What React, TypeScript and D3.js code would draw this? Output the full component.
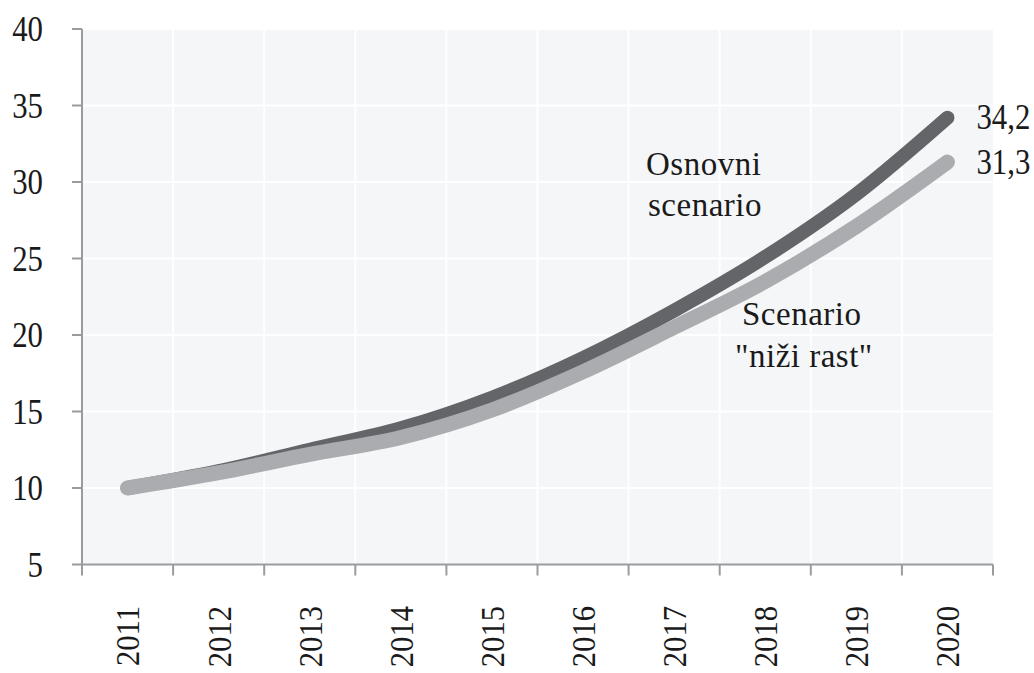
import React from 'react'
import * as d3 from 'd3'

const years = ['2011', '2012', '2013', '2014', '2015', '2016', '2017', '2018', '2019', '2020']
const osnovni = [10, 11.1, 12.5, 13.9, 15.9, 18.5, 21.6, 25.1, 29.2, 34.2]
const niziRast = [10, 11, 12.2, 13.3, 15.1, 17.6, 20.5, 23.5, 27.1, 31.3]
const yTicks = [5, 10, 15, 20, 25, 30, 35, 40]

const width = 1034
const height = 673
const left = 82
const right = 993
const top = 29
const bottom = 564.5

const x = d3.scaleBand().domain(years).range([left, right])
const y = d3.scaleLinear().domain([5, 40]).range([bottom, top])

const line = d3
  .line<number>()
  .x((d, i) => x(years[i])! + x.bandwidth() / 2)
  .y(d => y(d))
  .curve(d3.curveMonotoneX)

const font = '"Liberation Serif", serif'
const axisColor = '#9a9b9f'
const ink = '#1a1a1a'

// narrow, tall digits like the original
function Num({ x: px, y: py, anchor = 'start', children }: any) {
  return (
    <text
      transform={`translate(${px},${py}) scale(0.88,1)`}
      dy="0.35em"
      textAnchor={anchor}
      fontFamily={font}
      fontSize={35}
      fill={ink}
    >
      {children}
    </text>
  )
}

export default function App() {
  const lastX = x(years[years.length - 1])! + x.bandwidth() / 2
  const fmt = (v: number) => String(v).replace('.', ',')
  return (
    <svg
      width={width}
      height={height}
      style={{ position: 'absolute', left: 0, top: 0, background: '#fff' }}
    >
      <rect x={left} y={top} width={right - left} height={bottom - top} fill="#f5f6f8" />
      {yTicks.map(t => (
        <line key={'gy' + t} x1={left} x2={right} y1={y(t)} y2={y(t)} stroke="#fff" strokeWidth={2} />
      ))}
      {years.map(yr => (
        <line key={'gx' + yr} x1={x(yr)} x2={x(yr)} y1={top} y2={bottom} stroke="#fff" strokeWidth={2} />
      ))}

      {/* axes */}
      <line x1={left} x2={left} y1={top} y2={bottom} stroke={axisColor} strokeWidth={2} />
      <line x1={left} x2={right} y1={bottom} y2={bottom} stroke={axisColor} strokeWidth={2} />
      {yTicks.map(t => (
        <g key={'ty' + t}>
          <line x1={left - 10} x2={left} y1={y(t)} y2={y(t)} stroke={axisColor} strokeWidth={2} />
          <Num x={43} y={y(t)} anchor="end">{t}</Num>
        </g>
      ))}
      {[...years.map(yr => x(yr)!), right].map((p, i) => (
        <line key={'tx' + i} x1={p} x2={p} y1={bottom} y2={bottom + 11} stroke={axisColor} strokeWidth={2} />
      ))}
      {years.map(yr => {
        const cx = x(yr)! + x.bandwidth() / 2
        return (
          <text
            key={'lx' + yr}
            transform={`translate(${cx},606) rotate(-90) scale(0.9,1)`}
            textAnchor="end"
            dy="0.35em"
            fontFamily={font}
            fontSize={34}
            fill={ink}
          >
            {yr}
          </text>
        )
      })}

      {/* series */}
      <path d={line(osnovni)!} fill="none" stroke="#646569" strokeWidth={14} strokeLinecap="round" />
      <path d={line(niziRast)!} fill="none" stroke="#aaacaf" strokeWidth={15} strokeLinecap="round" />

      <Num x={lastX + 29} y={y(osnovni[9]) - 1}>{fmt(osnovni[9])}</Num>
      <Num x={lastX + 29} y={y(niziRast[9])}>{fmt(niziRast[9])}</Num>

      <g fontFamily={font} fontSize={33} fill={ink} letterSpacing={0.5}>
        <text x={646} y={175}>Osnovni</text>
        <text x={648} y={216}>scenario</text>
        <text x={742} y={325}>Scenario</text>
        <text x={735} y={367}>"niži rast"</text>
      </g>
    </svg>
  )
}
